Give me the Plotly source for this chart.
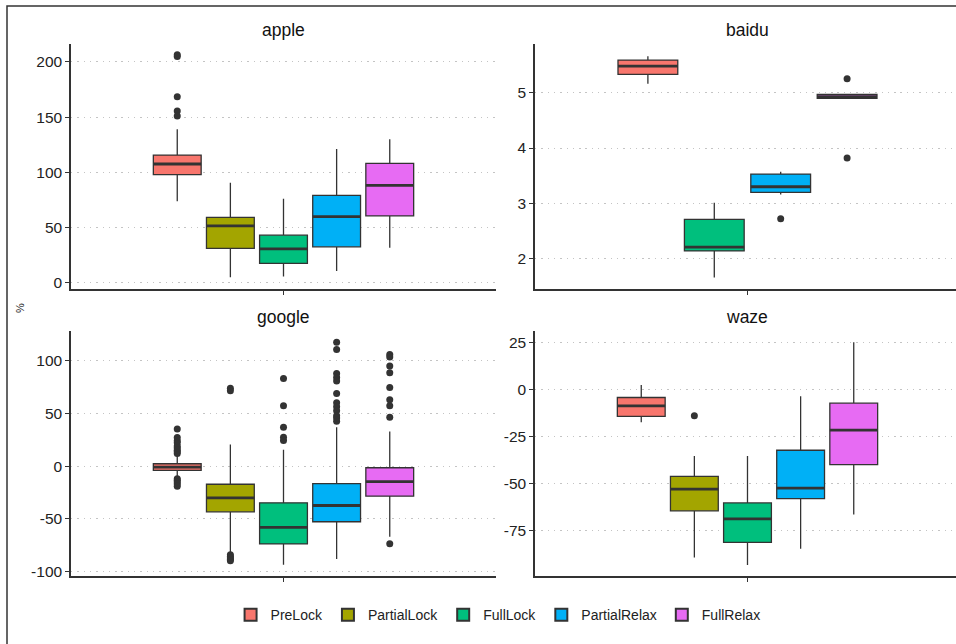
import plotly.graph_objects as go

W, H = 956, 644

groups = ["PreLock", "PartialLock", "FullLock", "PartialRelax", "FullRelax"]
group_colors = ["#F8766D", "#A3A500", "#00BF7D", "#00B0F6", "#E76BF3"]

# ---------------- data ----------------
apple_groups = ["PreLock", "PartialLock", "FullLock", "PartialRelax", "FullRelax"]
apple_low = [73.8, 5.1, 5.7, 10.8, 31.8]
apple_q1 = [98.0, 31.2, 17.7, 32.7, 60.6]
apple_med = [107.6, 51.6, 30.9, 60.0, 88.2]
apple_q3 = [115.7, 59.4, 43.2, 79.2, 108.2]
apple_high = [139.0, 90.6, 76.2, 121.1, 130.1]
apple_out = [[205.0, 206.5, 168.5, 155.6, 151.0], [], [], [], []]
apple_ticks = [0, 50, 100, 150, 200]

baidu_groups = ["PreLock", "FullLock", "PartialRelax", "FullRelax"]
baidu_low = [5.16, 1.66, 3.16, 4.90]
baidu_q1 = [5.33, 2.14, 3.20, 4.90]
baidu_med = [5.48, 2.21, 3.30, 4.93]
baidu_q3 = [5.59, 2.71, 3.53, 4.97]
baidu_high = [5.66, 3.01, 3.57, 4.98]
baidu_out = [[], [], [2.72], [5.25, 3.82]]
baidu_ticks = [2, 3, 4, 5]

google_groups = ["PreLock", "PartialLock", "FullLock", "PartialRelax", "FullRelax"]
google_low = [-10.3, -82.4, -93.4, -88.0, -66.8]
google_q1 = [-4.0, -43.3, -73.7, -52.7, -28.5]
google_med = [-1.0, -30.1, -58.0, -37.3, -14.7]
google_q3 = [2.2, -17.2, -34.8, -16.6, -1.6]
google_high = [10.3, 20.4, 15.4, 36.7, 32.6]
google_out = [
    [12.0, 13.5, 15.0, 17.0, 19.0, 22.0, 24.0, 27.0, 35.0, -12.0, -13.5, -15.0, -17.0, -19.0],
    [73.7, 71.2, -84.0, -85.5, -87.0, -88.5, -89.6],
    [82.8, 57.0, 36.7, 27.3, 24.1],
    [117.2, 110.3, 87.5, 83.7, 80.6, 68.7, 59.9, 56.1, 52.4, 47.6, 45.5, 42.3],
    [105.6, 103.1, 94.7, 88.4, 74.3, 62.7, 57.0, 46.1, -73.4],
]
google_ticks = [-100, -50, 0, 50, 100]

waze_groups = ["PreLock", "PartialLock", "FullLock", "PartialRelax", "FullRelax"]
waze_low = [-17.6, -89.3, -93.3, -84.7, -66.5]
waze_q1 = [-14.4, -64.6, -81.3, -58.1, -40.0]
waze_med = [-8.8, -53.0, -68.8, -52.5, -21.7]
waze_q3 = [-4.4, -46.3, -60.4, -32.4, -7.4]
waze_high = [2.3, -35.4, -35.4, -3.7, 25.0]
waze_out = [[], [-14.1], [], [], []]
waze_ticks = [-75, -50, -25, 0, 25]

# ---------------- layout geometry (pixels) ----------------
FONT = "Liberation Sans, Arial, Helvetica, sans-serif"
DARK = "#333333"


def px_x(p):
    return p / W


def px_y(p):
    return 1 - p / H


panels = [
    dict(name="apple", groups=apple_groups, low=apple_low, q1=apple_q1, med=apple_med, q3=apple_q3,
         high=apple_high, out=apple_out, ticks=apple_ticks, yr=[-5.4, 216.2],
         xd=[71, 496], yd=[44.3, 290.7], xr=[-2, 6], center=2),
    dict(name="baidu", groups=baidu_groups, low=baidu_low, q1=baidu_q1, med=baidu_med, q3=baidu_q3,
         high=baidu_high, out=baidu_out, ticks=baidu_ticks, yr=[1.454, 5.88],
         xd=[535, 956], yd=[44.3, 290.7], xr=[-1.70, 4.64], center=1.5),
    dict(name="google", groups=google_groups, low=google_low, q1=google_q1, med=google_med, q3=google_q3,
         high=google_high, out=google_out, ticks=google_ticks, yr=[-104.4, 127.6],
         xd=[71, 496], yd=[333.3, 580], xr=[-2, 6], center=2),
    dict(name="waze", groups=waze_groups, low=waze_low, q1=waze_q1, med=waze_med, q3=waze_q3,
         high=waze_high, out=waze_out, ticks=waze_ticks, yr=[-99.4, 30.8],
         xd=[535, 956], yd=[333.3, 580], xr=[-2, 5.925], center=2),
]

fig = go.Figure()
layout = dict(
    width=W, height=H,
    margin=dict(l=0, r=0, t=0, b=0),
    paper_bgcolor="white", plot_bgcolor="white",
    font=dict(family=FONT, color="#222222", size=14),
    showlegend=True,
    boxmode="overlay",
    legend=dict(orientation="h", x=0.521, xanchor="center", y=px_y(619), yanchor="middle",
                font=dict(size=14, color="#222222"), bgcolor="rgba(0,0,0,0)",
                traceorder="normal", itemsizing="constant"),
    annotations=[], shapes=[],
)

shown = set()
for i, p in enumerate(panels):
    k = "" if i == 0 else str(i + 1)
    xa, ya = "x" + k, "y" + k
    for j, g in enumerate(p["groups"]):
        col = group_colors[groups.index(g)]
        fig.add_trace(go.Box(
            x=[g], q1=[p["q1"][j]], median=[p["med"][j]], q3=[p["q3"][j]],
            lowerfence=[p["low"][j]], upperfence=[p["high"][j]],
            name=g, legendgroup=g, showlegend=(g not in shown),
            fillcolor=col, line=dict(color=DARK, width=1.3), whiskerwidth=0,
            width=0.9, boxpoints=False, xaxis=xa, yaxis=ya, hoverinfo="skip",
        ))
        shown.add(g)
        # thicker median bar (ggplot fatten)
        fig.add_trace(go.Box(
            x=[g], q1=[p["med"][j]], median=[p["med"][j]], q3=[p["med"][j]],
            lowerfence=[p["med"][j]], upperfence=[p["med"][j]],
            name=g, legendgroup=g, showlegend=False,
            fillcolor="rgba(0,0,0,0)", line=dict(color=DARK, width=2.8), whiskerwidth=0,
            width=0.9, boxpoints=False, xaxis=xa, yaxis=ya, hoverinfo="skip",
        ))
        if p["out"][j]:
            fig.add_trace(go.Scatter(
                x=[g] * len(p["out"][j]), y=p["out"][j], mode="markers",
                marker=dict(color=DARK, size=7), showlegend=False,
                xaxis=xa, yaxis=ya, hoverinfo="skip",
            ))
    layout["xaxis" + k] = dict(
        domain=[px_x(p["xd"][0]), px_x(p["xd"][1])], anchor=ya, type="category",
        categoryorder="array", categoryarray=p["groups"], range=p["xr"],
        tickmode="array", tickvals=[p["center"]], ticktext=[""],
        ticks="outside", ticklen=4, tickwidth=1.3, tickcolor=DARK,
        showline=True, linecolor=DARK, linewidth=1.5, showgrid=False, zeroline=False,
        fixedrange=True,
    )
    layout["yaxis" + k] = dict(
        domain=[px_y(p["yd"][1]), px_y(p["yd"][0])], anchor=xa, range=p["yr"],
        tickmode="array", tickvals=p["ticks"], ticktext=[str(t) for t in p["ticks"]],
        ticks="outside", ticklen=4, tickwidth=1.3, tickcolor=DARK,
        tickfont=dict(size=15.5, color="#222222"),
        showline=True, linecolor=DARK, linewidth=1.5,
        showgrid=True, gridcolor="#c4c4c4", gridwidth=1.4, griddash="1.4px,4.9px",
        zeroline=False, fixedrange=True,
    )
    # panel title centred on the panel's centre category position
    x0, x1 = p["xd"]
    r0, r1 = p["xr"]
    cx = x0 + (p["center"] - r0) / (r1 - r0) * (x1 - x0)
    layout["annotations"].append(dict(
        text=p["name"], x=px_x(cx), y=px_y(p["yd"][0] - 14.5), xref="paper", yref="paper",
        xanchor="center", yanchor="middle", showarrow=False,
        font=dict(size=17.5, color="#111111"),
    ))

layout["annotations"].append(dict(
    text="%", x=px_x(20), y=px_y(310), xref="paper", yref="paper", textangle=-90,
    xanchor="center", yanchor="middle", showarrow=False, font=dict(size=11, color="#222222"),
))
layout["shapes"].append(dict(
    type="rect", xref="paper", yref="paper", x0=px_x(7), x1=1.05, y0=-0.05, y1=px_y(6),
    line=dict(color=DARK, width=1.5), fillcolor="rgba(0,0,0,0)", layer="above",
))

fig.update_layout(**layout)
fig.write_html("out.html")
